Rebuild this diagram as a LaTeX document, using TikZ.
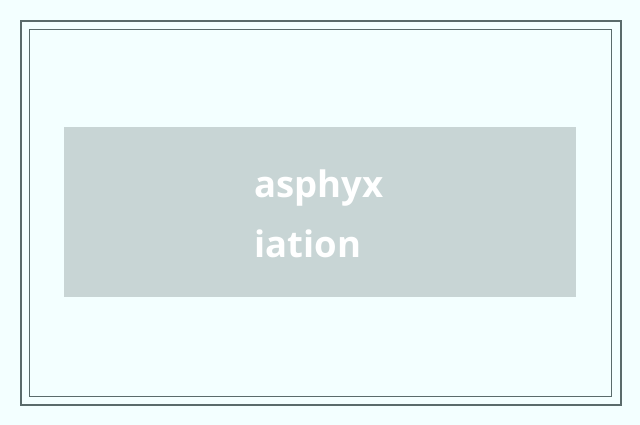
\documentclass[tikz,border=0pt]{standalone}
\usepackage{fontspec}
\setmainfont{Open Sans}
\definecolor{bgc}{HTML}{F3FFFF}
\definecolor{framec}{HTML}{5A6B6B}
\definecolor{boxc}{HTML}{C8D5D5}
\tikzset{
  outerframe/.style={draw=framec, line width=2pt},
  innerframe/.style={draw=framec, line width=1pt},
  labelbox/.style={fill=boxc, draw=none},
  labeltext/.style={text=white, font=\fontsize{36.5}{60}\selectfont\bfseries, align=left, anchor=base west, inner sep=0pt}
}
\begin{document}
\begin{tikzpicture}[x=1pt,y=-1pt]
\useasboundingbox (0,0) rectangle (640,425);
\fill[bgc] (0,0) rectangle (640,425);
\draw[outerframe] (21,21) rectangle (620.5,405.3);
\draw[innerframe] (29.5,29.5) rectangle (611,396.5);
\node[labelbox, minimum width=512pt, minimum height=170pt, anchor=north west, inner sep=0pt] (box) at (64,127) {};
\node[labeltext] (lbl1) at (254.5,197) {asphyx};
\node[labeltext] (lbl2) at (254.5,257) {iation};
\end{tikzpicture}
\end{document}
